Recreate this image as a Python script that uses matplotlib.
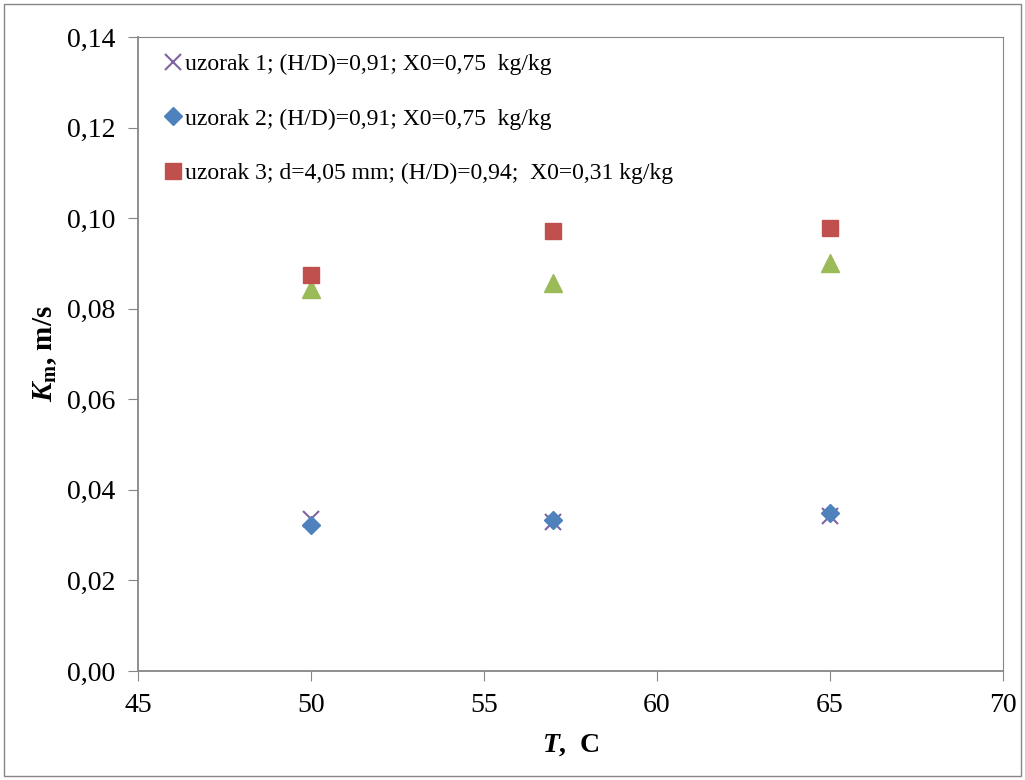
import matplotlib.pyplot as plt
from matplotlib.patches import Rectangle

plt.rcParams['font.family'] = ['Liberation Serif', 'DejaVu Serif']
plt.rcParams['mathtext.fontset'] = 'custom'
plt.rcParams['mathtext.rm'] = 'Liberation Serif:bold'
plt.rcParams['mathtext.it'] = 'Liberation Serif:italic:bold'
plt.rcParams['mathtext.bf'] = 'Liberation Serif:bold'

# data
temps = [50, 57, 65]
uzorak1 = [0.0335, 0.0330, 0.0343]
uzorak2 = [0.0322, 0.0333, 0.0350]
uzorak3 = [0.0874, 0.0971, 0.0979]
uzorak4 = [0.0843, 0.0857, 0.0900]

labels = ["uzorak 1; (H/D)=0,91; X0=0,75  kg/kg",
          "uzorak 2; (H/D)=0,91; X0=0,75  kg/kg",
          "uzorak 3; d=4,05 mm; (H/D)=0,94;  X0=0,31 kg/kg"]

xticks = [45, 50, 55, 60, 65, 70]
yticks = [0.00, 0.02, 0.04, 0.06, 0.08, 0.10, 0.12, 0.14]
ytick_labels = ["0,00", "0,02", "0,04", "0,06", "0,08", "0,10", "0,12", "0,14"]

fig = plt.figure(figsize=(10.25, 7.8), dpi=100)
ax = fig.add_axes([0.1346, 0.1397, 0.844, 0.8129])

ax.plot(temps, uzorak4, linestyle='none', marker='^', markersize=13, color='#9BBB59')
ax.plot(temps, uzorak3, linestyle='none', marker='s', markersize=12, color='#C0504D', label=labels[2])
ax.plot(temps, uzorak1, linestyle='none', marker='x', markersize=11, markeredgewidth=1.5,
        color='#8064A2', label=labels[0])
ax.plot(temps, uzorak2, linestyle='none', marker='D', markersize=9, color='#4F81BD', label=labels[1])

ax.set_xlim(45, 70)
ax.set_ylim(0, 0.14)
ax.set_xticks(xticks)
ax.set_xticklabels([str(t) for t in xticks])
ax.set_yticks(yticks)
ax.set_yticklabels(ytick_labels)
ax.tick_params(direction='out', length=7, color='#868686', labelsize=20)
ax.tick_params(axis='y', pad=9)
ax.tick_params(axis='x', pad=9)
for s in ax.spines.values():
    s.set_color('#868686')
    s.set_linewidth(1.3)
ax.spines['top'].set_linewidth(0.8)
ax.spines['right'].set_linewidth(0.8)

ax.set_xlabel(r"$\mathit{T}$,  C", fontsize=20, fontweight='bold', labelpad=10)
ax.set_ylabel(r"$\mathit{K}_{\mathrm{m}}$, m/s", fontsize=21, fontweight='bold', labelpad=6)

h, l = ax.get_legend_handles_labels()
order = [1, 2, 0]
ax.legend([h[i] for i in order], [l[i] for i in order], loc='upper left', frameon=False,
          fontsize=17, handlelength=0.7, handletextpad=0.15, labelspacing=1.4,
          borderaxespad=0.3, bbox_to_anchor=(0.012, 1.0))

fig.patches.append(Rectangle((0.004, 0.005), 0.992, 0.99, transform=fig.transFigure,
                             fill=False, edgecolor='#868686', linewidth=1))

fig.savefig('out.png', dpi=100)
